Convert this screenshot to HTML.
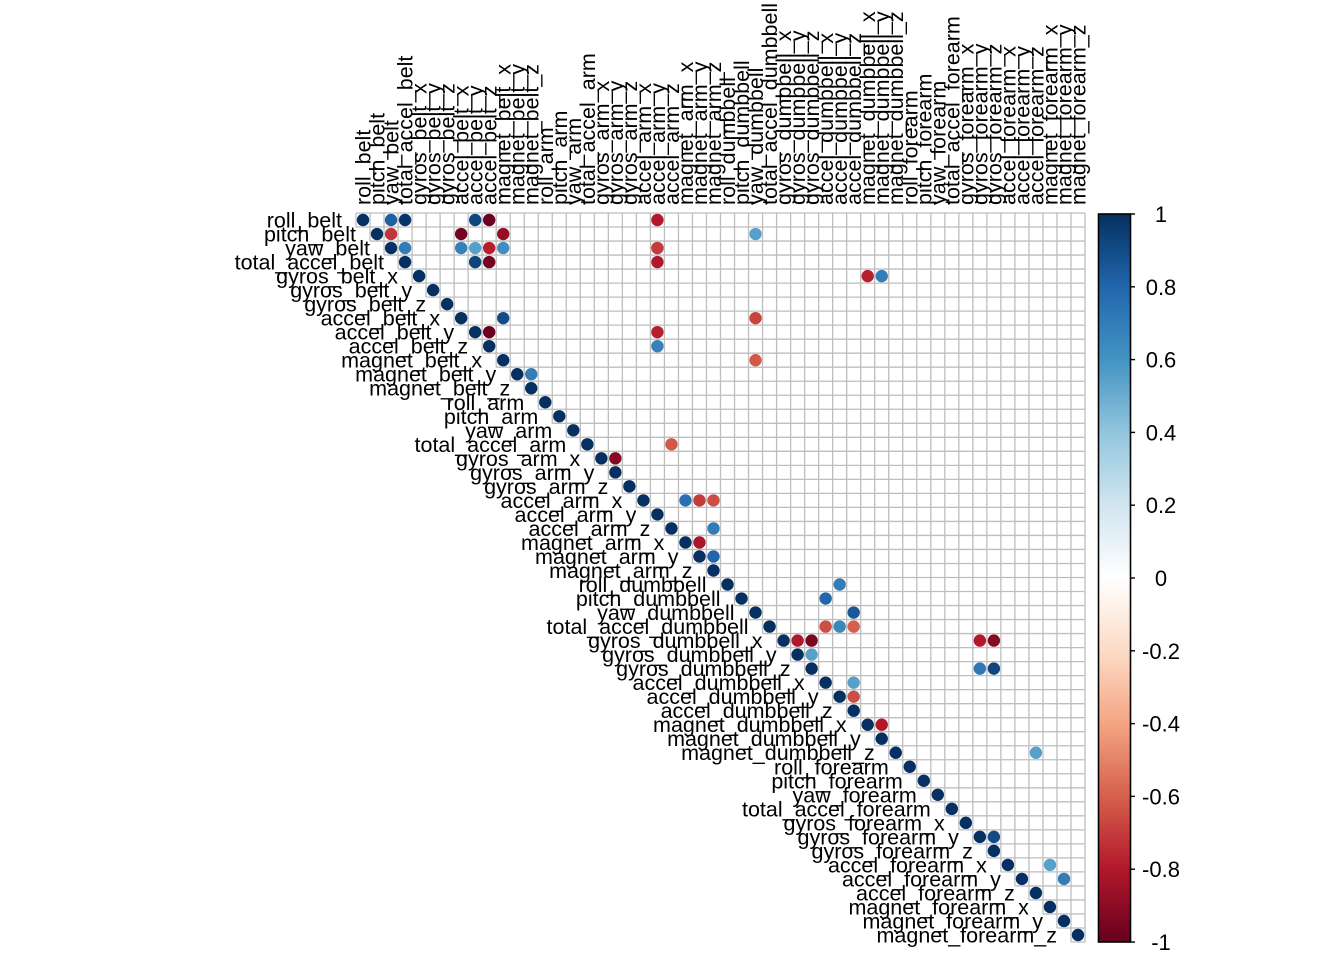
<!DOCTYPE html>
<html><head><meta charset="utf-8"><style>
body{margin:0;background:#fff}
svg text{font-family:"Liberation Sans",sans-serif;fill:#000}
</style></head><body>
<svg id="chart" width="1344" height="960" xmlns="http://www.w3.org/2000/svg">
<defs><linearGradient id="cg" x1="0" y1="1" x2="0" y2="0">
<stop offset="0" stop-color="#67001F"/><stop offset="0.1" stop-color="#B2182B"/><stop offset="0.2" stop-color="#D6604D"/><stop offset="0.3" stop-color="#F4A582"/><stop offset="0.4" stop-color="#FDDBC7"/><stop offset="0.5" stop-color="#FFFFFF"/><stop offset="0.6" stop-color="#D1E5F0"/><stop offset="0.7" stop-color="#92C5DE"/><stop offset="0.8" stop-color="#4393C3"/><stop offset="0.9" stop-color="#2166AC"/><stop offset="1" stop-color="#053061"/>
</linearGradient></defs>
<g id="grid"></g>
<g id="dots"></g>
<g id="collabels"></g>
<g id="rowlabels"></g>
<g id="legend"></g>
</svg>
<script>
const variables=["roll_belt","pitch_belt","yaw_belt","total_accel_belt","gyros_belt_x","gyros_belt_y","gyros_belt_z","accel_belt_x","accel_belt_y","accel_belt_z","magnet_belt_x","magnet_belt_y","magnet_belt_z","roll_arm","pitch_arm","yaw_arm","total_accel_arm","gyros_arm_x","gyros_arm_y","gyros_arm_z","accel_arm_x","accel_arm_y","accel_arm_z","magnet_arm_x","magnet_arm_y","magnet_arm_z","roll_dumbbell","pitch_dumbbell","yaw_dumbbell","total_accel_dumbbell","gyros_dumbbell_x","gyros_dumbbell_y","gyros_dumbbell_z","accel_dumbbell_x","accel_dumbbell_y","accel_dumbbell_z","magnet_dumbbell_x","magnet_dumbbell_y","magnet_dumbbell_z","roll_forearm","pitch_forearm","yaw_forearm","total_accel_forearm","gyros_forearm_x","gyros_forearm_y","gyros_forearm_z","accel_forearm_x","accel_forearm_y","accel_forearm_z","magnet_forearm_x","magnet_forearm_y","magnet_forearm_z"];
// off-diagonal strong correlations (1-based row, col, value)
const pairRows=[1,1,1,1,1,2,2,2,2,3,3,3,3,3,3,3,4,4,4,5,5,8,8,9,9,10,11,12,17,18,21,21,21,23,24,25,27,28,29,30,30,30,31,31,31,31,32,33,33,34,35,37,39,45,47,48];
const pairCols=[3,4,9,10,22,3,8,11,29,4,8,9,10,11,22,22,9,10,22,37,38,11,29,10,22,22,29,13,23,19,24,25,26,26,25,26,35,34,36,34,35,36,32,33,45,46,33,45,46,36,36,38,49,46,50,51];
const pairValues=[0.82,0.98,0.92,-0.99,-0.8,-0.72,-0.97,-0.88,0.55,0.7,0.68,0.55,-0.78,0.62,-0.7,-0.7,0.93,-0.97,-0.8,-0.78,0.7,0.9,-0.68,-0.99,-0.78,0.68,-0.62,0.7,-0.62,-0.92,0.75,-0.7,-0.65,0.7,-0.82,0.8,0.7,0.8,0.85,-0.65,0.65,-0.6,-0.8,-0.95,-0.8,-0.92,0.55,0.72,0.92,0.55,-0.65,-0.8,0.55,0.9,0.55,0.7];
const legendTicks=[1,0.8,0.6,0.4,0.2,0,-0.2,-0.4,-0.6,-0.8,-1];

const NS="http://www.w3.org/2000/svg";
const N=variables.length, x0=356, y0=213, s=(1085-356)/52, R=6.2;
const cx=j=>x0+(j+0.5)*s, cy=i=>y0+(i+0.5)*s;
const pal=["#67001F","#B2182B","#D6604D","#F4A582","#FDDBC7","#FFFFFF","#D1E5F0","#92C5DE","#4393C3","#2166AC","#053061"];
function col(v){const t=(v+1)*5;const k=Math.min(9,Math.floor(t));const f=t-k;
 const a=pal[k],b=pal[k+1];const h=(c,i)=>parseInt(c.substr(1+i*2,2),16);
 return "rgb("+[0,1,2].map(i=>Math.round(h(a,i)+(h(b,i)-h(a,i))*f)).join(",")+")";}
function mk(tag,attrs,parent){const e=document.createElementNS(NS,tag);for(const k in attrs)e.setAttribute(k,attrs[k]);parent.appendChild(e);return e;}
const grid=document.getElementById('grid');
for(let k=0;k<=N;k++){
 const hl=mk('line',{x1:x0+Math.max(k-1,0)*s,x2:x0+N*s,y1:y0+k*s,y2:y0+k*s,stroke:'#bebebe','stroke-width':1.3},grid);
 
 
 const vl=mk('line',{x1:x0+k*s,x2:x0+k*s,y1:y0,y2:y0+Math.min(k+1,N)*s,stroke:'#bebebe','stroke-width':1.3},grid);
 
 
}
const dots=document.getElementById('dots');
for(let i=0;i<N;i++){
 const c=mk('circle',{cx:cx(i),cy:cy(i),r:R,fill:col(1)},dots);
 
 
}
for(let p=0;p<pairValues.length;p++){
 const c=mk('circle',{cx:cx(pairCols[p]-1),cy:cy(pairRows[p]-1),r:R,fill:col(pairValues[p])},dots);
 
 
}
const cl=document.getElementById('collabels'), rl=document.getElementById('rowlabels');
for(let i=0;i<N;i++){
 const t=mk('text',{x:0,y:0,'font-size':21.5,transform:`translate(${cx(i)+7.5},205) rotate(-90)`},cl);
 t.textContent=variables[i];
 
 
 const r=mk('text',{x:x0+i*s-14,y:cy(i)+7.5,'font-size':21.5,'text-anchor':'end'},rl);
 r.textContent=variables[i];
 
 
}
const lg=document.getElementById('legend');
const ly0=214, ly1=942;
const bar=mk('rect',{x:1098.5,y:ly0,width:32,height:ly1-ly0,fill:'url(#cg)',stroke:'#000','stroke-width':1.6},lg);


legendTicks.forEach(v=>{
 const y=ly0+(1-v)/2*(ly1-ly0);
 const tk=mk('line',{x1:1130,x2:1135,y1:y,y2:y,stroke:'#000','stroke-width':1.4},lg);
 
 
 const t=mk('text',{x:1161,y:y+8,'font-size':22,'text-anchor':'middle'},lg);
 t.textContent=String(v);
 
 
});
</script>
</body></html>
